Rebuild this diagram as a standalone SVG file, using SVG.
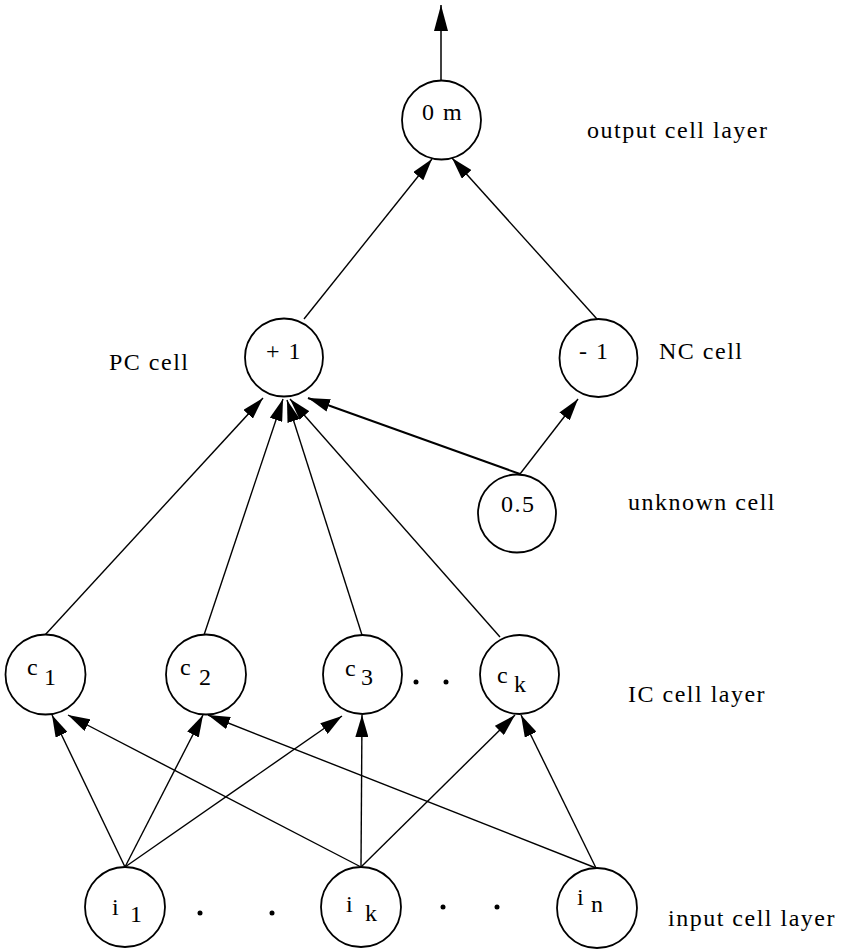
<svg xmlns="http://www.w3.org/2000/svg" width="844" height="952" viewBox="0 0 844 952">
<style>
  .node { fill: #fff; stroke: #000; stroke-width: 1.8; }
  .t { font-family: "Liberation Serif", "Times New Roman", serif; font-size: 24px; fill: #000; letter-spacing: 1.5px; }
  .lbl { font-family: "Liberation Serif", "Times New Roman", serif; font-size: 24px; fill: #000; letter-spacing: 1.5px; }
  .e { stroke: #000; stroke-width: 1.4; fill: none; marker-end: url(#ah); }
  .dot { fill: #000; }
</style>
<defs>
  <marker id="ah" markerUnits="userSpaceOnUse" markerWidth="22" markerHeight="13" refX="22" refY="6.5" orient="auto">
    <path d="M0,0 L22,6.5 L0,13 Z" fill="#000"/>
  </marker>
  <marker id="ahL" markerUnits="userSpaceOnUse" markerWidth="26" markerHeight="14" refX="26" refY="7" orient="auto">
    <path d="M0,0 L26,7 L0,14 Z" fill="#000"/>
  </marker>
</defs>
<rect width="844" height="952" fill="#fff"/>

<g id="connectors">
  <line x1="441" y1="81" x2="441" y2="5" stroke="#000" stroke-width="1.5" marker-end="url(#ahL)"/>
  <line class="e" x1="304" y1="319" x2="432" y2="159"/>
  <line class="e" x1="597" y1="319" x2="452" y2="158"/>
  <line class="e" x1="520" y1="474" x2="578" y2="399"/>
  <line class="e" x1="520" y1="474" x2="308" y2="398" style="stroke-width:2"/>
  <line class="e" x1="45" y1="635" x2="263" y2="398"/>
  <line class="e" x1="204" y1="635" x2="283" y2="399"/>
  <line class="e" x1="362" y1="635" x2="287" y2="400"/>
  <line class="e" x1="500" y1="637" x2="290" y2="399"/>
  <line class="e" x1="125" y1="867" x2="52" y2="715"/>
  <line class="e" x1="361" y1="867" x2="68" y2="715"/>
  <line class="e" x1="125" y1="867" x2="203" y2="715"/>
  <line class="e" x1="596" y1="868" x2="208" y2="715"/>
  <line class="e" x1="125" y1="867" x2="342" y2="716"/>
  <line class="e" x1="361" y1="867" x2="362" y2="715"/>
  <line class="e" x1="361" y1="867" x2="515" y2="715"/>
  <line class="e" x1="596" y1="868" x2="521" y2="715"/>
</g>

<g id="out">
  <circle class="node" cx="441.5" cy="120" r="39.5"/>
  <text class="t" x="422" y="120">0 m</text>
</g>
<g id="pc">
  <circle class="node" cx="284" cy="357.5" r="39"/>
  <text class="t" x="266" y="359">+ 1</text>
</g>
<g id="nc">
  <circle class="node" cx="598.5" cy="358" r="39"/>
  <text class="t" x="579" y="359">- 1</text>
</g>
<g id="unk">
  <circle class="node" cx="517" cy="513.5" r="39"/>
  <text class="t" x="501" y="512">0.5</text>
</g>
<g id="c1">
  <circle class="node" cx="45.5" cy="674.5" r="40"/>
  <text class="t" x="27" y="675">c</text>
  <text class="t" x="44" y="685">1</text>
</g>
<g id="c2">
  <circle class="node" cx="206" cy="674.5" r="40"/>
  <text class="t" x="180" y="675">c</text>
  <text class="t" x="199" y="685">2</text>
</g>
<g id="c3">
  <circle class="node" cx="362.5" cy="674.5" r="39.5"/>
  <text class="t" x="345" y="676">c</text>
  <text class="t" x="361" y="685">3</text>
</g>
<g id="ck">
  <circle class="node" cx="519.5" cy="674.5" r="39.5"/>
  <text class="t" x="497" y="683">c</text>
  <text class="t" x="514" y="692">k</text>
</g>
<g id="i1">
  <circle class="node" cx="125" cy="907" r="40"/>
  <text class="t" x="112" y="915">i</text>
  <text class="t" x="130" y="922">1</text>
</g>
<g id="ik">
  <circle class="node" cx="361" cy="907" r="40"/>
  <text class="t" x="346" y="912">i</text>
  <text class="t" x="365" y="921">k</text>
</g>
<g id="in">
  <circle class="node" cx="597" cy="908" r="40"/>
  <text class="t" x="577" y="905">i</text>
  <text class="t" x="591" y="912">n</text>
</g>

<g id="dots">
  <circle class="dot" cx="416" cy="682" r="2.5"/>
  <circle class="dot" cx="446" cy="682" r="2.5"/>
  <circle class="dot" cx="200" cy="913" r="2.5"/>
  <circle class="dot" cx="272" cy="913" r="2.5"/>
  <circle class="dot" cx="443" cy="907" r="2.5"/>
  <circle class="dot" cx="497" cy="907" r="2.5"/>
</g>

<g id="labels">
  <text class="lbl" x="587" y="138">output cell layer</text>
  <text class="lbl" x="109" y="370">PC cell</text>
  <text class="lbl" x="659" y="359">NC cell</text>
  <text class="lbl" x="628" y="510">unknown cell</text>
  <text class="lbl" x="628" y="702">IC cell layer</text>
  <text class="lbl" x="668" y="926">input cell layer</text>
</g>
</svg>
